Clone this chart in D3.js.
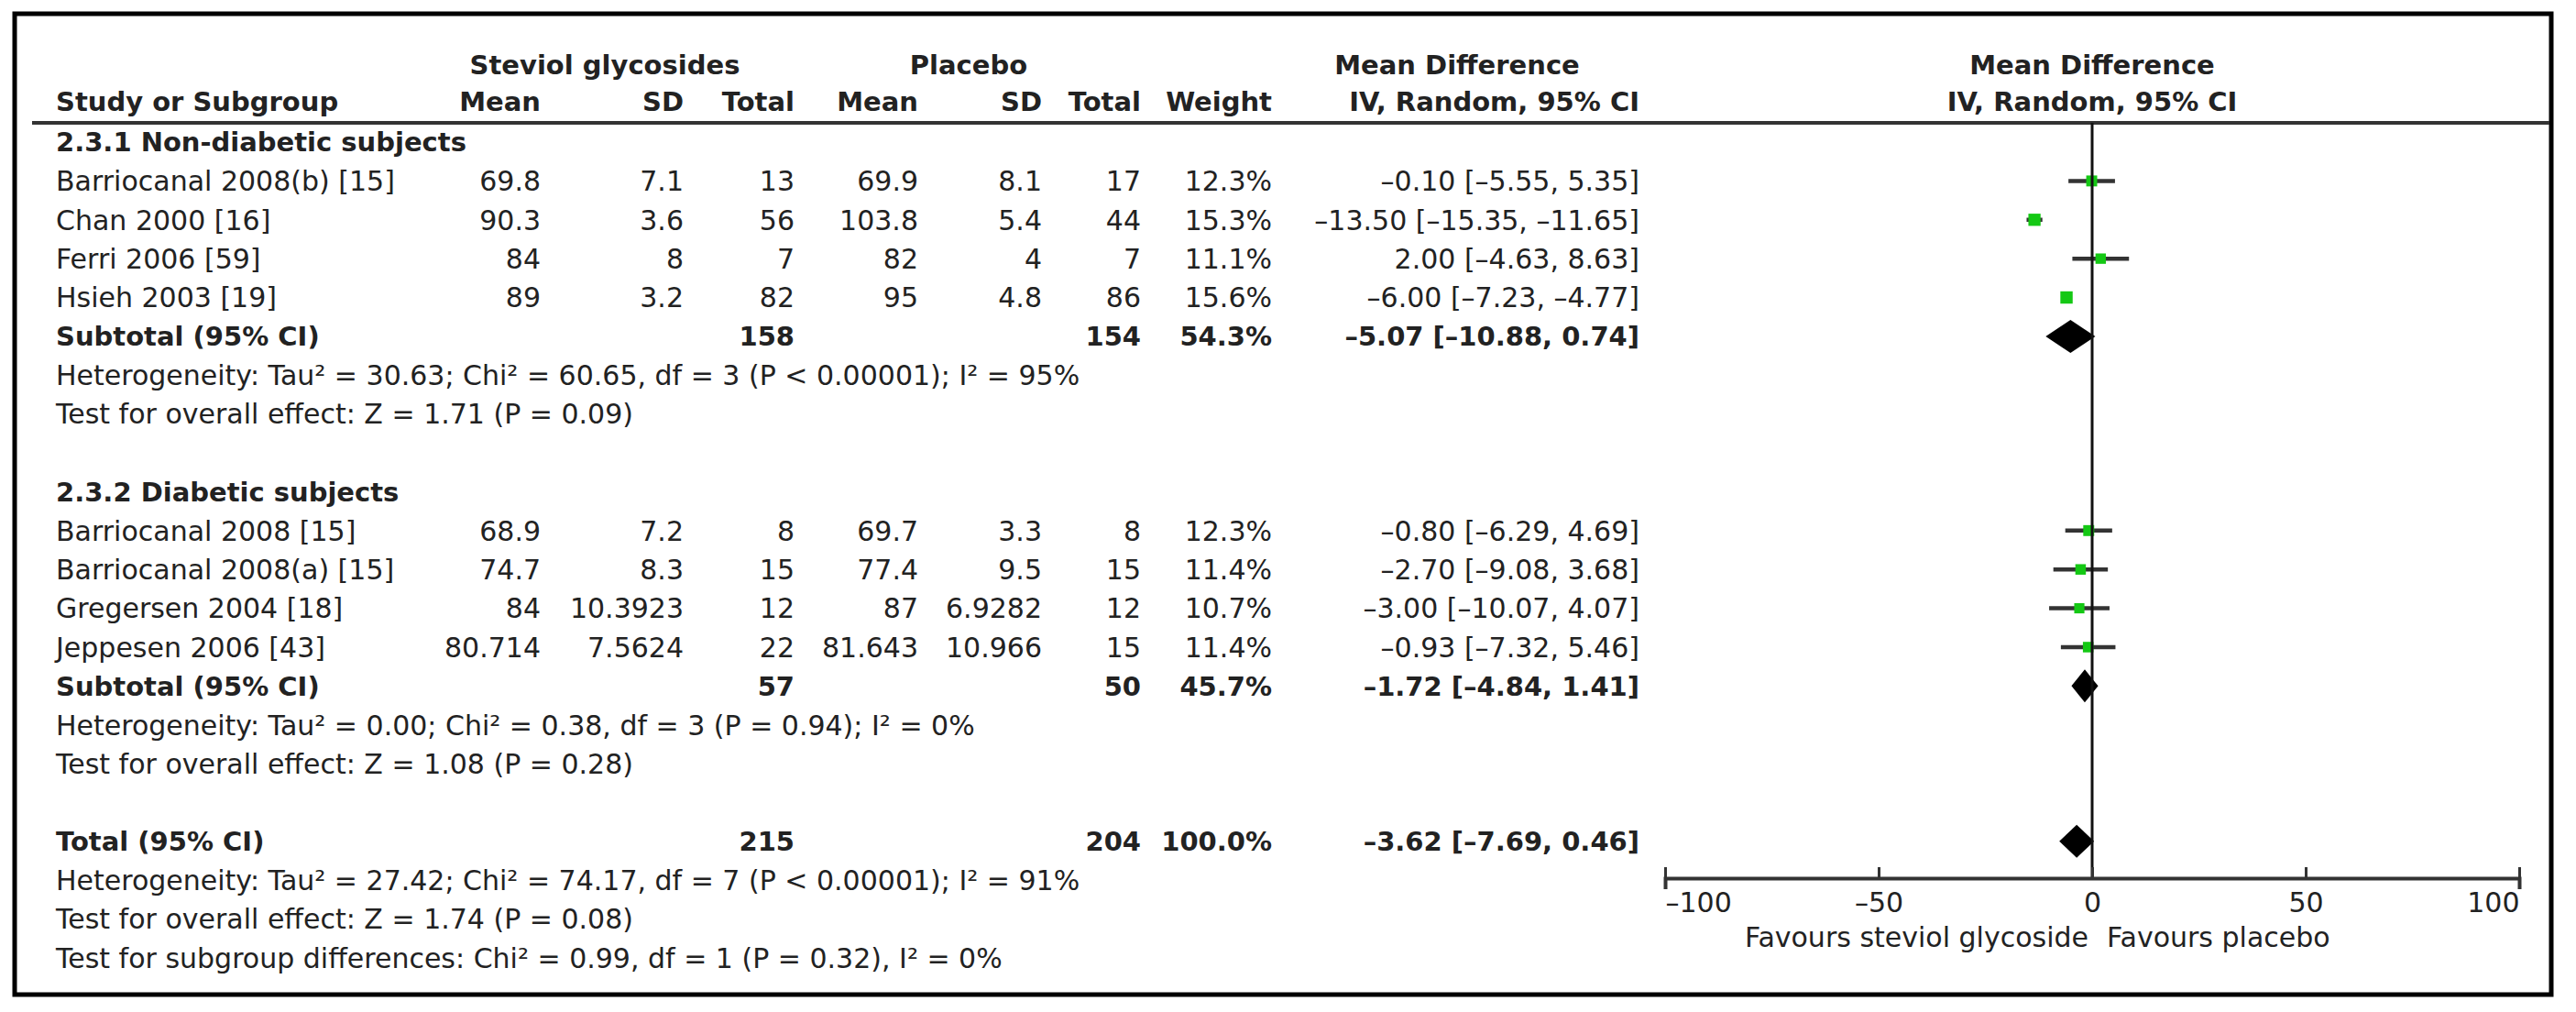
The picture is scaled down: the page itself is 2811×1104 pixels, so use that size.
<!DOCTYPE html>
<html>
<head>
<meta charset="utf-8">
<script src="https://cdn.jsdelivr.net/npm/d3@7"></script>
<style>
  body { margin: 0; background: #fff; }
  text { font-family: "DejaVu Sans", sans-serif; fill: #222; }
</style>
</head>
<body>
<div class="container"></div>
<script>
// study level data
var studies = ["Barriocanal 2008(b) [15]", "Chan 2000 [16]", "Ferri 2006 [59]", "Hsieh 2003 [19]",
    "Barriocanal 2008 [15]", "Barriocanal 2008(a) [15]", "Gregersen 2004 [18]", "Jeppesen 2006 [43]"];
var studyGroup = [0, 0, 0, 0, 1, 1, 1, 1];
var expMean = [69.8, 90.3, 84, 89, 68.9, 74.7, 84, 80.714];
var expSD = [7.1, 3.6, 8, 3.2, 7.2, 8.3, 10.3923, 7.5624];
var expN = [13, 56, 7, 82, 8, 15, 12, 22];
var plcMean = [69.9, 103.8, 82, 95, 69.7, 77.4, 87, 81.643];
var plcSD = [8.1, 5.4, 4, 4.8, 3.3, 9.5, 6.9282, 10.966];
var plcN = [17, 44, 7, 86, 8, 15, 12, 15];
var weights = [12.3, 15.3, 11.1, 15.6, 12.3, 11.4, 10.7, 11.4];
var meanDiff = [-0.10, -13.50, 2.00, -6.00, -0.80, -2.70, -3.00, -0.93];
var ciLow = [-5.55, -15.35, -4.63, -7.23, -6.29, -9.08, -10.07, -7.32];
var ciHigh = [5.35, -11.65, 8.63, -4.77, 4.69, 3.68, 4.07, 5.46];

// subgroups
var subgroups = ["2.3.1 Non-diabetic subjects", "2.3.2 Diabetic subjects"];
var subExpN = [158, 57];
var subPlcN = [154, 50];
var subWeight = [54.3, 45.7];
var subMD = [-5.07, -1.72];
var subLow = [-10.88, -4.84];
var subHigh = [0.74, 1.41];
var subHet = [
    "Heterogeneity: Tau² = 30.63; Chi² = 60.65, df = 3 (P < 0.00001); I² = 95%",
    "Heterogeneity: Tau² = 0.00; Chi² = 0.38, df = 3 (P = 0.94); I² = 0%"
];
var subTest = [
    "Test for overall effect: Z = 1.71 (P = 0.09)",
    "Test for overall effect: Z = 1.08 (P = 0.28)"
];

// overall
var totalExpN = 215, totalPlcN = 204, totalWeight = 100.0;
var totalMD = -3.62, totalLow = -7.69, totalHigh = 0.46;
var totalNotes = [
    "Heterogeneity: Tau² = 27.42; Chi² = 74.17, df = 7 (P < 0.00001); I² = 91%",
    "Test for overall effect: Z = 1.74 (P = 0.08)",
    "Test for subgroup differences: Chi² = 0.99, df = 1 (P = 0.32), I² = 0%"
];

var axisTicks = [-100, -50, 0, 50, 100];
var favours = ["Favours steviol glycoside", "Favours placebo"];
var groupHeads = ["Steviol glycosides", "Placebo", "Mean Difference", "Mean Difference"];
var colHeads = ["Study or Subgroup", "Mean", "SD", "Total", "Mean", "SD", "Total", "Weight", "IV, Random, 95% CI", "IV, Random, 95% CI"];

const W = 2811, H = 1104;
const FS = 30, FSB = 29;
// right edges of the table columns
const COL = { study: 61, eMean: 590, eSD: 746, eN: 867, pMean: 1002, pSD: 1137, pN: 1245, weight: 1388, ci: 1789 };

var fmt = v => String(v).replace(/-/g, "\u2013");
var fmt2 = v => fmt(v.toFixed(2));
var ciText = (m, lo, hi) => `${fmt2(m)} [${fmt2(lo)}, ${fmt2(hi)}]`;

document.addEventListener('DOMContentLoaded', function () {
    var svg = d3.select(".container")
        .append("svg")
        .attr("width", W)
        .attr("height", H);

    // row positions: 22 text lines in the body
    var rowY = d3.scaleLinear().domain([0, 21]).range([155, 1045]);
    var x = d3.scaleLinear().domain([-100, 100]).range([1817, 2749]);
    var axisY = 958;

    function label(y, xPos, txt, opts) {
        opts = opts || {};
        return svg.append("text")
            .attr("x", xPos)
            .attr("y", y + (opts.bold ? FSB : FS) * 0.36)
            .attr("text-anchor", opts.anchor || "end")
            .style("font-size", (opts.bold ? FSB : FS) + "px")
            .style("font-weight", opts.bold ? "bold" : "normal")
            .text(txt);
    }

    // frame
    svg.append("rect")
        .attr("x", 16).attr("y", 15)
        .attr("width", 2784 - 16).attr("height", 1085 - 15)
        .attr("fill", "none")
        .attr("stroke", "#000")
        .attr("stroke-width", 5);

    // header
    var h1 = 71, h2 = 111;
    label(h1, 660, groupHeads[0], { bold: true, anchor: "middle" });
    label(h1, 1057, groupHeads[1], { bold: true, anchor: "middle" });
    label(h1, 1590, groupHeads[2], { bold: true, anchor: "middle" });
    label(h1, x(0), groupHeads[3], { bold: true, anchor: "middle" });

    label(h2, COL.study, colHeads[0], { bold: true, anchor: "start" });
    [COL.eMean, COL.eSD, COL.eN, COL.pMean, COL.pSD, COL.pN, COL.weight, COL.ci].forEach(function (cx, i) {
        label(h2, cx, colHeads[i + 1], { bold: true });
    });
    label(h2, x(0), colHeads[9], { bold: true, anchor: "middle" });

    svg.append("line")
        .attr("x1", 35).attr("x2", 2782)
        .attr("y1", 134).attr("y2", 134)
        .attr("stroke", "#333")
        .attr("stroke-width", 4);

    // table body
    subgroups.forEach(function (g, gi) {
        var base = gi * 9;
        label(rowY(base), COL.study, g, { bold: true, anchor: "start" });

        studies.forEach(function (s, i) {
            if (studyGroup[i] !== gi) return;
            var k = studyGroup.slice(0, i).filter(v => v === gi).length;
            var y = rowY(base + 1 + k);
            label(y, COL.study, s, { anchor: "start" });
            label(y, COL.eMean, fmt(expMean[i]));
            label(y, COL.eSD, fmt(expSD[i]));
            label(y, COL.eN, expN[i]);
            label(y, COL.pMean, fmt(plcMean[i]));
            label(y, COL.pSD, fmt(plcSD[i]));
            label(y, COL.pN, plcN[i]);
            label(y, COL.weight, weights[i].toFixed(1) + "%");
            label(y, COL.ci, ciText(meanDiff[i], ciLow[i], ciHigh[i]));
        });

        var ys = rowY(base + 5);
        label(ys, COL.study, "Subtotal (95% CI)", { bold: true, anchor: "start" });
        label(ys, COL.eN, subExpN[gi], { bold: true });
        label(ys, COL.pN, subPlcN[gi], { bold: true });
        label(ys, COL.weight, subWeight[gi].toFixed(1) + "%", { bold: true });
        label(ys, COL.ci, ciText(subMD[gi], subLow[gi], subHigh[gi]), { bold: true });

        label(rowY(base + 6), COL.study, subHet[gi], { anchor: "start" });
        label(rowY(base + 7), COL.study, subTest[gi], { anchor: "start" });
    });

    var yt = rowY(18);
    label(yt, COL.study, "Total (95% CI)", { bold: true, anchor: "start" });
    label(yt, COL.eN, totalExpN, { bold: true });
    label(yt, COL.pN, totalPlcN, { bold: true });
    label(yt, COL.weight, totalWeight.toFixed(1) + "%", { bold: true });
    label(yt, COL.ci, ciText(totalMD, totalLow, totalHigh), { bold: true });
    totalNotes.forEach(function (t, i) {
        label(rowY(19 + i), COL.study, t, { anchor: "start" });
    });

    // forest plot
    var plot = svg.append("g");
    var rows = studies.map(function (s, i) {
        var k = studyGroup.slice(0, i).filter(v => v === studyGroup[i]).length;
        return { i: i, y: rowY(studyGroup[i] * 9 + 1 + k) };
    });

    plot.selectAll("line.ci")
        .data(rows)
        .enter()
        .append("line")
        .attr("class", "ci")
        .attr("x1", d => x(ciLow[d.i]))
        .attr("x2", d => x(ciHigh[d.i]))
        .attr("y1", d => d.y)
        .attr("y2", d => d.y)
        .attr("stroke", "#333")
        .attr("stroke-width", 4.5);

    var side = d => 3.4 * Math.sqrt(weights[d.i]);
    plot.selectAll("rect.sq")
        .data(rows)
        .enter()
        .append("rect")
        .attr("class", "sq")
        .attr("x", d => x(meanDiff[d.i]) - side(d) / 2)
        .attr("y", d => d.y - side(d) / 2)
        .attr("width", side)
        .attr("height", side)
        .attr("fill", "#14c814");

    var diamonds = [
        { m: subMD[0], lo: subLow[0], hi: subHigh[0], y: rowY(5) },
        { m: subMD[1], lo: subLow[1], hi: subHigh[1], y: rowY(14) },
        { m: totalMD, lo: totalLow, hi: totalHigh, y: rowY(18) }
    ];
    plot.selectAll("path.diamond")
        .data(diamonds)
        .enter()
        .append("path")
        .attr("class", "diamond")
        .attr("d", d => `M${x(d.lo)},${d.y} L${x(d.m)},${d.y - 18} L${x(d.hi)},${d.y} L${x(d.m)},${d.y + 18} Z`)
        .attr("fill", "#000");

    // line of no effect
    plot.append("line")
        .attr("x1", x(0)).attr("x2", x(0))
        .attr("y1", 134).attr("y2", axisY)
        .attr("stroke", "#111")
        .attr("stroke-width", 3);

    var axis = d3.axisBottom(x)
        .tickValues(axisTicks)
        .tickSizeInner(-12)
        .tickSizeOuter(12)
        .tickPadding(16)
        .tickFormat(fmt);

    var ax = svg.append("g")
        .attr("transform", `translate(0, ${axisY})`)
        .call(axis);
    ax.select(".domain").attr("stroke", "#333").attr("stroke-width", 4);
    ax.selectAll(".tick line").attr("stroke", "#333").attr("stroke-width", 3);
    ax.selectAll(".tick text")
        .style("font-size", FS + "px")
        .style("font-family", "DejaVu Sans")
        .attr("fill", "#222")
        .attr("text-anchor", d => d === axisTicks[0] ? "start" : (d === axisTicks[axisTicks.length - 1] ? "end" : "middle"));

    label(1022, x(0) - 4, favours[0]);
    label(1022, x(0) + 16, favours[1], { anchor: "start" });
});
</script>
</body>
</html>
